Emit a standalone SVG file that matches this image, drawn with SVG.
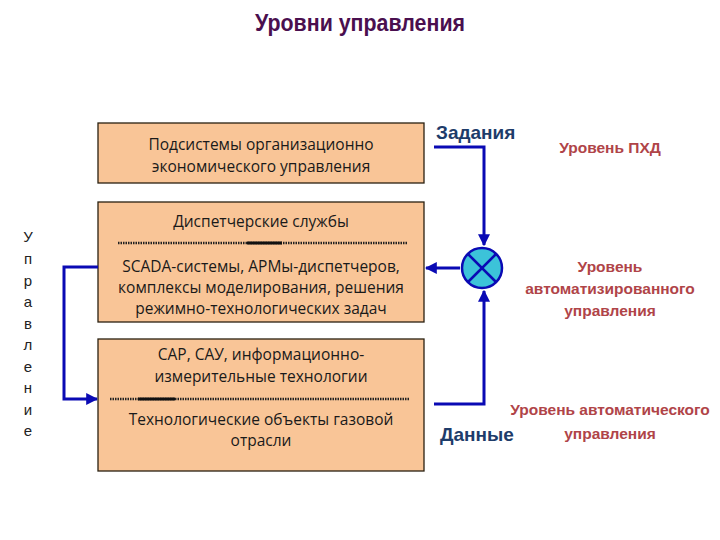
<svg xmlns="http://www.w3.org/2000/svg" width="720" height="540" viewBox="0 0 720 540">
<defs>
<style>
.box{fill:#f9c597;stroke:#2a2010;stroke-width:1.3}
.bt{font-family:"Open Sans","Noto Sans",sans-serif;font-size:15.5px;fill:#1a1a1a;text-anchor:middle}
.red{font-family:"Liberation Sans",Arial,sans-serif;font-weight:bold;font-size:15.5px;fill:#b04448;text-anchor:middle}
.blu{font-family:"Liberation Sans",Arial,sans-serif;font-weight:bold;font-size:19px;fill:#1e3c6a}
.vl{font-family:"Liberation Sans",Arial,sans-serif;font-size:15px;fill:#222;text-anchor:middle}
.ln{fill:none;stroke:#0a0ab4;stroke-width:3}
.dot{stroke:#222;stroke-width:2.5;stroke-dasharray:1.5 1}
.sol{stroke:#111;stroke-width:3}
</style>
<marker id="ah" viewBox="0 0 10 10" refX="9" refY="5" markerWidth="4" markerHeight="4" orient="auto" markerUnits="strokeWidth">
<path d="M0,0 L10,5 L0,10 z" fill="#0a0ab4"/>
</marker>
</defs>
<rect width="720" height="540" fill="#ffffff"/>
<text x="360" y="31" text-anchor="middle" font-family="Liberation Sans,Arial,sans-serif" font-size="23" fill="#4a0f4f" font-weight="bold" textLength="210" lengthAdjust="spacingAndGlyphs">Уровни управления</text>

<g id="vertical-label">
<text class="vl" x="28" y="242">У</text>
<text class="vl" x="28" y="264">п</text>
<text class="vl" x="28" y="286">р</text>
<text class="vl" x="28" y="307">а</text>
<text class="vl" x="28" y="329">в</text>
<text class="vl" x="28" y="350">л</text>
<text class="vl" x="28" y="372">е</text>
<text class="vl" x="28" y="393">н</text>
<text class="vl" x="28" y="415">и</text>
<text class="vl" x="28" y="436">е</text>
</g>

<g id="box1">
<rect class="box" x="98" y="123" width="326" height="60"/>
<text class="bt" x="261" y="150">Подсистемы организационно</text>
<text class="bt" x="261" y="172">экономического управления</text>
</g>

<g id="box2">
<rect class="box" x="98" y="202" width="326" height="120"/>
<text class="bt" x="261" y="227">Диспетчерские службы</text>
<line class="dot" x1="118" y1="243" x2="408" y2="243"/>
<line class="sol" x1="247" y1="243" x2="282" y2="243"/>
<text class="bt" x="261" y="272">SCADA-системы, АРМы-диспетчеров,</text>
<text class="bt" x="261" y="293">комплексы моделирования, решения</text>
<text class="bt" x="261" y="314">режимно-технологических задач</text>
</g>

<g id="box3">
<rect class="box" x="98" y="339" width="326" height="132"/>
<text class="bt" x="261" y="360">САР, САУ, информационно-</text>
<text class="bt" x="261" y="382">измерительные технологии</text>
<line class="dot" x1="110" y1="399" x2="410" y2="399"/>
<line class="sol" x1="138" y1="399" x2="175" y2="399"/>
<text class="bt" x="261" y="425">Технологические объекты газовой</text>
<text class="bt" x="261" y="446">отрасли</text>
</g>

<g id="comparator">
<circle cx="482" cy="268" r="20" fill="#3cc3d9" stroke="#0a0ab4" stroke-width="2.5"/>
<line x1="468" y1="254" x2="496" y2="282" stroke="#0a0ab4" stroke-width="2.5"/>
<line x1="496" y1="254" x2="468" y2="282" stroke="#0a0ab4" stroke-width="2.5"/>
</g>

<g id="labels">
<text class="blu" x="436" y="139">Задания</text>
<text class="blu" x="440" y="441">Данные</text>
<text class="red" x="610" y="153">Уровень ПХД</text>
<text class="red" x="610" y="272">Уровень</text>
<text class="red" x="610" y="294">автоматизированного</text>
<text class="red" x="610" y="316">управления</text>
<text class="red" x="610" y="415">Уровень автоматического</text>
<text class="red" x="610" y="439">управления</text>
</g>

<g id="connectors">
<polyline class="ln" points="434,147 484,147 484,245" marker-end="url(#ah)"/>
<polyline class="ln" points="434,404 484,404 484,291" marker-end="url(#ah)"/>
<line class="ln" x1="460" y1="268" x2="426" y2="268" marker-end="url(#ah)"/>
<polyline class="ln" points="98,267 64,267 64,399 97,399" marker-end="url(#ah)"/>
</g>
</svg>
